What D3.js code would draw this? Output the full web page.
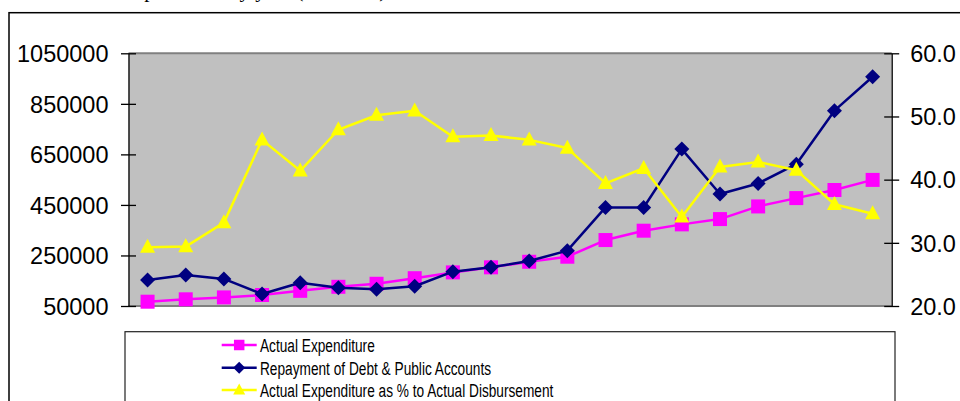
<!DOCTYPE html>
<html>
<head>
<meta charset="utf-8">
<script src="https://cdn.jsdelivr.net/npm/d3@7"></script>
<style>
  html, body { margin: 0; padding: 0; background: #fff; overflow: hidden; }
  svg { display: block; }
</style>
</head>
<body>
<svg id="chart" width="960" height="401"></svg>
<script>
// ---- data ----
const categories = ["1","2","3","4","5","6","7","8","9","10","11","12","13","14","15","16","17","18","19","20"];
const actualExpenditure = [67000, 76500, 84000, 93500, 110000, 126000, 138000, 160000, 183000, 203000,
                           225000, 245000, 311000, 348000, 373000, 394000, 444000, 477000, 509000, 549000];
const repayment = [153000, 173000, 157000, 97500, 142000, 122500, 116000, 128000, 186000, 203000,
                   228000, 269000, 440000, 440000, 671000, 493000, 535000, 611000, 823000, 957000];
const pctDisbursement = [29.3, 29.4, 33.2, 46.3, 41.4, 47.9, 50.2, 50.9, 46.8, 47.0,
                         46.3, 45.0, 39.4, 41.8, 34.1, 42.0, 42.8, 41.5, 36.1, 34.6];
const leftTicks = [50000, 250000, 450000, 650000, 850000, 1050000];
const rightTicks = [20, 30, 40, 50, 60];
const seriesNames = ["Actual Expenditure", "Repayment of Debt & Public Accounts", "Actual Expenditure as % to Actual Disbursement"];
const titleText = "Expenditure by year (Rs. crore)";

// ---- layout ----
const svg = d3.select("#chart");
const plot = { left: 128.5, right: 891.7, top: 53.3, bottom: 306 };

// outer border
svg.append("rect").attr("x", 9).attr("y", 12.7).attr("width", 1000).attr("height", 500)
  .attr("fill", "#fff").attr("stroke", "#000").attr("stroke-width", 1.5);

// title, mostly above the top edge (only descenders visible as in the reference)
svg.append("text").attr("x", 121).attr("y", -3.5)
  .attr("font-family", "'Liberation Serif', 'Times New Roman', serif").attr("font-size", 21)
  .attr("fill", "#000").text(titleText);

const x = d3.scalePoint().domain(categories).range([plot.left, plot.right]).padding(0.5);
const yL = d3.scaleLinear().domain([50000, 1050000]).range([plot.bottom, plot.top]);
const yR = d3.scaleLinear().domain([20, 60]).range([plot.bottom, plot.top]);

// plot background
svg.append("rect").attr("x", plot.left).attr("y", plot.top)
  .attr("width", plot.right - plot.left).attr("height", plot.bottom - plot.top)
  .attr("fill", "#C0C0C0");
svg.append("line").attr("x1", plot.left).attr("x2", plot.right).attr("y1", plot.top).attr("y2", plot.top)
  .attr("stroke", "#808080").attr("stroke-width", 2);
svg.append("line").attr("x1", plot.left).attr("x2", plot.right).attr("y1", plot.bottom).attr("y2", plot.bottom)
  .attr("stroke", "#808080").attr("stroke-width", 2);

const axisFont = "'Liberation Sans', Arial, sans-serif";

// left axis
const gL = svg.append("g").attr("transform", `translate(${plot.left},0)`)
  .call(d3.axisLeft(yL).tickValues(leftTicks).tickFormat(d3.format("d")).tickSize(7.5).tickSizeOuter(0).tickPadding(12.5));
gL.select(".domain").attr("stroke", "#000").attr("stroke-width", 1.3);
gL.selectAll(".tick line").attr("x1", 7.5).attr("stroke", "#000").attr("stroke-width", 1.3);
gL.selectAll(".tick text").attr("font-family", axisFont).attr("font-size", 23.5).attr("fill", "#000").attr("dy", "0.35em");

// right axis
const gR = svg.append("g").attr("transform", `translate(${plot.right},0)`)
  .call(d3.axisRight(yR).tickValues(rightTicks).tickFormat(d3.format(".1f")).tickSize(7.5).tickSizeOuter(0).tickPadding(11));
gR.select(".domain").attr("stroke", "#000").attr("stroke-width", 1.3);
gR.selectAll(".tick line").attr("x1", -7.5).attr("stroke", "#000").attr("stroke-width", 1.3);
gR.selectAll(".tick text").attr("font-family", axisFont).attr("font-size", 23.5).attr("fill", "#000").attr("dy", "0.35em");

// marker shapes
function squarePath(s) { const h = s / 2; return `M${-h},${-h}H${h}V${h}H${-h}Z`; }
function diamondPath(s) { const h = s / 2; return `M0,${-h}L${h},0L0,${h}L${-h},0Z`; }
function trianglePath(w, hgt) { const a = w / 2; return `M0,${-hgt * 0.6}L${a},${hgt * 0.4}L${-a},${hgt * 0.4}Z`; }

const series = [
  { name: seriesNames[0], values: actualExpenditure, y: yL, color: "#FF00FF", marker: squarePath(14), legendMarker: squarePath(10.5) },
  { name: seriesNames[1], values: repayment, y: yL, color: "#000080", marker: diamondPath(15), legendMarker: diamondPath(12) },
  { name: seriesNames[2], values: pctDisbursement, y: yR, color: "#FFFF00", marker: trianglePath(15, 14), legendMarker: trianglePath(12, 11) }
];

series.forEach(s => {
  const line = d3.line().x((d, i) => x(categories[i])).y(d => s.y(d));
  svg.append("path").datum(s.values).attr("d", line)
    .attr("fill", "none").attr("stroke", s.color).attr("stroke-width", 2.5).attr("stroke-linejoin", "round");
  svg.append("g").selectAll("path").data(s.values).join("path")
    .attr("transform", (d, i) => `translate(${x(categories[i])},${s.y(d)})`)
    .attr("d", s.marker).attr("fill", s.color);
});

// legend
const legend = { x: 125, y: 331.7, w: 770, h: 120 };
svg.append("rect").attr("x", legend.x).attr("y", legend.y).attr("width", legend.w).attr("height", legend.h)
  .attr("fill", "#fff").attr("stroke", "#222").attr("stroke-width", 1.2);
const rowY = [345, 367.7, 390];
series.forEach((s, i) => {
  const g = svg.append("g").attr("transform", `translate(0,${rowY[i]})`);
  g.append("line").attr("x1", 221.7).attr("x2", 256.7).attr("y1", 0).attr("y2", 0)
    .attr("stroke", s.color).attr("stroke-width", 2.5);
  g.append("path").attr("transform", "translate(239.2,0)").attr("d", s.legendMarker).attr("fill", s.color);
  g.append("text").attr("transform", "translate(260,7) scale(0.72,1)")
    .attr("font-family", axisFont).attr("font-size", 19).attr("fill", "#000").text(s.name);
});
</script>
</body>
</html>
